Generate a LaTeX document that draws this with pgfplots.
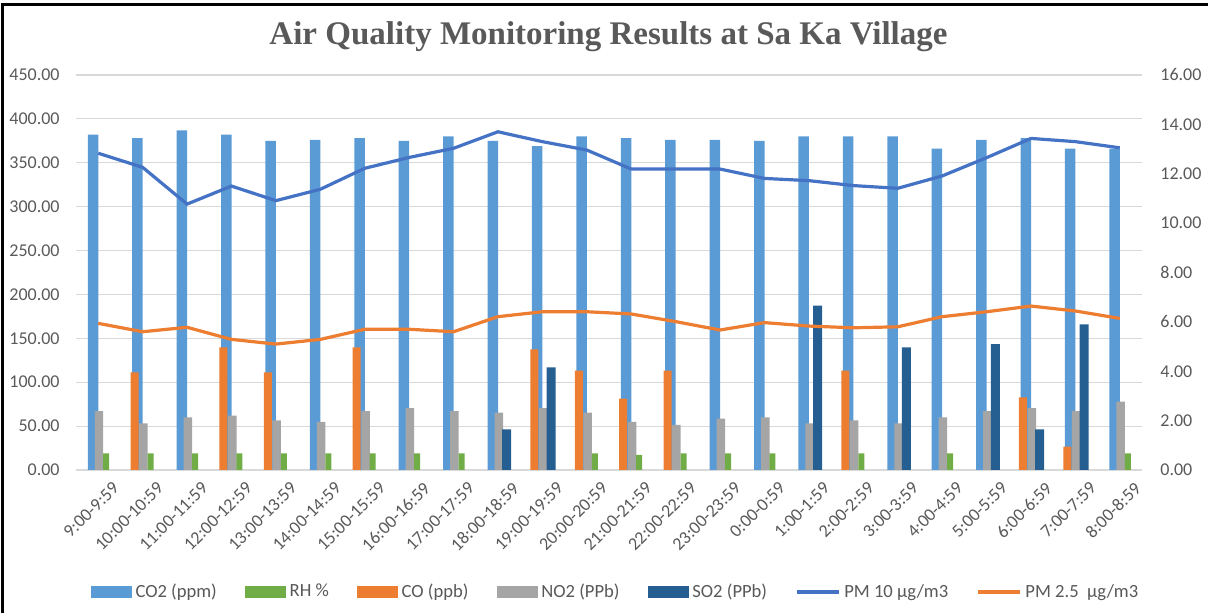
\documentclass[border=0pt]{standalone}
\usepackage{fontspec}
\setmainfont{Carlito}
\newfontfamily\titlefont{Liberation Serif}
\usepackage{pgfplots}
\usepackage{pgfplotstable}
\pgfplotsset{compat=1.18}

\definecolor{co2c}{HTML}{5B9BD5}
\definecolor{rhc}{HTML}{70AD47}
\definecolor{coc}{HTML}{ED7D31}
\definecolor{no2c}{HTML}{A5A5A5}
\definecolor{so2c}{HTML}{255E91}
\definecolor{pm10c}{HTML}{4472C4}
\definecolor{pm25c}{HTML}{ED7D31}
\definecolor{textc}{HTML}{595959}
\definecolor{gridc}{HTML}{D9D9D9}

% hourly values, x = slot index (0 = 9:00-9:59)
\pgfplotstableread{
x  co2  no2   pm10   pm25
0  382  67.2  12.83  5.94
1  378  53.1  12.26  5.60
2  387  60.0  10.77  5.78
3  382  61.9  11.50  5.29
4  375  56.6  10.91  5.10
5  376  54.7  11.37  5.29
6  378  67.2  12.22  5.70
7  375  70.6  12.66  5.70
8  380  67.2  13.03  5.60
9  375  65.3  13.70  6.21
10 369  70.6  13.30  6.41
11 380  65.3  12.96  6.41
12 378  54.7  12.19  6.32
13 376  51.3  12.19  6.01
14 376  58.5  12.19  5.67
15 375  60.0  11.81  5.97
16 380  53.1  11.72  5.83
17 380  56.6  11.52  5.76
18 380  53.1  11.41  5.80
19 366  60.0  11.91  6.21
20 376  67.2  12.65  6.41
21 378  70.6  13.43  6.64
22 366  67.2  13.30  6.44
23 366  77.8  13.05  6.14
}\maindata

\pgfplotstableread{
x  co
1  111.3
3  139.7
4  111.3
6  139.7
10 137.5
11 113.1
12 81.2
13 113.1
17 113.1
21 82.8
22 26.6
}\codata

\pgfplotstableread{
x  so2
9  46.3
10 117.0
16 187.2
18 139.7
20 143.5
21 46.3
22 166.0
}\sotwodata

\pgfplotstableread{
x  rh
0  19
1  19
2  19
3  19
4  19
5  19
6  19
7  19
8  19
11 19
12 17.1
13 19
14 19
15 19
17 19
19 19
23 19
}\rhdata

\begin{document}
\begin{tikzpicture}
\begin{axis}[
    width=533pt, height=197.5pt, scale only axis,
    xmin=-0.5, xmax=23.5,
    ymin=0, ymax=450,
    ytick={0,50,...,450},
    xtick={0,...,23},
    xticklabels={9:00-9:59,10:00-10:59,11:00-11:59,12:00-12:59,13:00-13:59,
        14:00-14:59,15:00-15:59,16:00-16:59,17:00-17:59,18:00-18:59,
        19:00-19:59,20:00-20:59,21:00-21:59,22:00-22:59,23:00-23:59,
        0:00-0:59,1:00-1:59,2:00-2:59,3:00-3:59,4:00-4:59,5:00-5:59,
        6:00-6:59,7:00-7:59,8:00-8:59},
    axis lines*=left,
    axis line style={draw=none},
    major tick length=0pt,
    ymajorgrids,
    grid style={draw=gridc, line width=0.6pt},
    tick label style={font=\fontsize{9}{11}\selectfont, text=textc},
    /pgf/number format/fixed,
    /pgf/number format/fixed zerofill,
    /pgf/number format/precision=2,
    /pgf/number format/assume math mode=true,
    yticklabel style={anchor=east, inner sep=0pt, xshift=-8pt},
    xticklabel style={rotate=45, anchor=north east, inner sep=0pt, yshift=-8.5pt, xshift=1pt},
]
\addplot[ybar, bar width=0.236, bar shift=-0.117, fill=co2c, draw=none]
    table[x=x, y=co2] {\maindata};
\addplot[ybar, bar width=0.18, bar shift=-0.18, fill=coc, draw=none]
    table[x=x, y=co] {\codata};
\addplot[ybar, bar width=0.191, bar shift=0.018, fill=no2c, draw=none]
    table[x=x, y=no2] {\maindata};
\addplot[ybar, bar width=0.203, bar shift=0.196, fill=so2c, draw=none]
    table[x=x, y=so2] {\sotwodata};
\addplot[ybar, bar width=0.135, bar shift=0.18, fill=rhc, draw=none]
    table[x=x, y=rh] {\rhdata};
\end{axis}

\begin{axis}[
    width=533pt, height=197.5pt, scale only axis,
    xmin=-0.5, xmax=23.5,
    ymin=0, ymax=16,
    ytick={0,2,...,16},
    xtick=\empty,
    axis x line=none,
    axis y line*=right,
    axis line style={draw=none},
    major tick length=0pt,
    tick label style={font=\fontsize{9}{11}\selectfont, text=textc},
    /pgf/number format/fixed,
    /pgf/number format/fixed zerofill,
    /pgf/number format/precision=2,
    /pgf/number format/assume math mode=true,
    yticklabel style={anchor=west, inner sep=0pt, xshift=9pt},
    legend columns=7,
    legend style={at={(0.507,-0.309)}, anchor=center, draw=none,
        font=\fontsize{9.3}{11}\selectfont, text=textc,
        /tikz/every even column/.append style={column sep=12pt}},
]
\addlegendimage{legend image code/.code={\fill[co2c] (0pt,-2.8pt) rectangle (20pt,2.8pt);}}
\addlegendentry{CO2 (ppm)}
\addlegendimage{legend image code/.code={\fill[rhc] (0pt,-2.8pt) rectangle (20pt,2.8pt);}}
\addlegendentry{RH \%}
\addlegendimage{legend image code/.code={\fill[coc] (0pt,-2.8pt) rectangle (20pt,2.8pt);}}
\addlegendentry{CO (ppb)}
\addlegendimage{legend image code/.code={\fill[no2c] (0pt,-2.8pt) rectangle (20pt,2.8pt);}}
\addlegendentry{NO2 (PPb)}
\addlegendimage{legend image code/.code={\fill[so2c] (0pt,-2.8pt) rectangle (20pt,2.8pt);}}
\addlegendentry{SO2 (PPb)}
\addplot[pm10c, line width=1.6pt, mark=none,
    legend image code/.code={\draw[pm10c, line width=1.6pt] (0pt,0pt) -- (21pt,0pt);}]
    table[x=x, y=pm10] {\maindata};
\addlegendentry{PM 10 µg/m3}
\addplot[pm25c, line width=1.6pt, mark=none,
    legend image code/.code={\draw[pm25c, line width=1.6pt] (0pt,0pt) -- (21pt,0pt);}]
    table[x=x, y=pm25] {\maindata};
\addlegendentry{PM 2.5~~µg/m3}
\end{axis}

\node[font=\titlefont\bfseries\fontsize{16.5}{19}\selectfont, text=textc]
    at (266.25pt,216.5pt) {Air Quality Monitoring Results at Sa Ka Village};
\draw[line width=1.4pt] (-36.75pt,-72pt) -- (-36.75pt,232.65pt) -- (567pt,232.65pt);

\pgfresetboundingbox
\path[use as bounding box] (-38pt,-71.5pt) rectangle (566pt,235pt);
\end{tikzpicture}
\end{document}
